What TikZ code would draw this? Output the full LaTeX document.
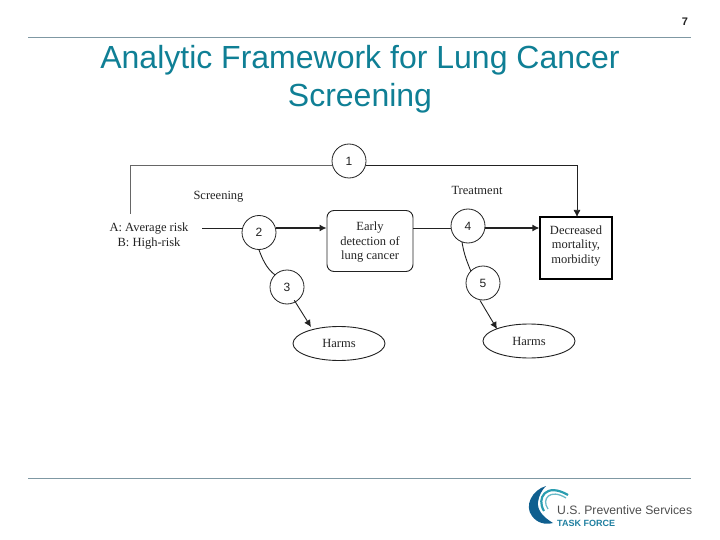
\documentclass[tikz,border=0pt]{standalone}
\usepackage{fontspec}
\setmainfont{Liberation Serif}
\newfontfamily\arialf{Liberation Sans}
\usetikzlibrary{shapes.geometric,arrows.meta}
\definecolor{titleteal}{HTML}{0F7F95}
\definecolor{rulegrey}{HTML}{7F98A3}
\definecolor{logoblue}{HTML}{0F5F8F}
\definecolor{logoteal}{HTML}{2A9DB0}
\definecolor{logotask}{HTML}{1F7FA0}
\definecolor{inkdark}{HTML}{222222}
\tikzset{
 numc/.style={circle,draw=inkdark,line width=0.8pt,minimum size=34pt,inner sep=0pt,font=\arialf\fontsize{12}{12}\selectfont,text=inkdark,fill=white},
 flow/.style={draw=inkdark,line width=0.9pt},
 thin flow/.style={draw=black!60,line width=0.7pt},
 tip/.style={-{Latex[length=7pt,width=7pt]}},
 lbl/.style={font=\fontsize{12.5}{14.5}\selectfont,align=center,text=inkdark,inner sep=0pt},
 harm/.style={ellipse,draw=inkdark,line width=0.9pt,minimum width=92pt,minimum height=34pt,inner sep=0pt,font=\fontsize{12.5}{14}\selectfont,text=inkdark},
 rulel/.style={draw=rulegrey,line width=0.8pt},
 titlet/.style={font=\arialf\fontsize{32}{38.5}\selectfont,text=titleteal,align=center,inner sep=0pt}
}
\begin{document}
\begin{tikzpicture}[x=1pt,y=-1pt]
\useasboundingbox (0,0) rectangle (720,540);
\node[font=\arialf\bfseries\fontsize{11}{11}\selectfont,text=inkdark,inner sep=0pt] (pagenum) at (685,22) {7};
\coordinate (ruleAl) at (28,37); \coordinate (ruleAr) at (691,37);
\draw[rulel] (ruleAl) -- (ruleAr);
\coordinate (ruleBl) at (28,478); \coordinate (ruleBr) at (691,478);
\draw[rulel] (ruleBl) -- (ruleBr);
\node[titlet] (title) at (360,79) {Analytic Framework for Lung Cancer\\Screening};

\node[numc] (c1) at (349,161) {1};
\node[numc] (c2) at (259,232.5) {2};
\node[numc] (c3) at (287,287) {3};
\node[numc] (c4) at (468,226) {4};
\node[numc] (c5) at (483,283) {5};
\node[lbl] (pop) at (149,236) {A: Average risk\\B: High-risk};
\node[lbl] (scr) at (218.5,196.5) {Screening};
\node[lbl] (trt) at (477,190) {Treatment};
\node[draw=inkdark,line width=0.9pt,rounded corners=7pt,minimum width=86pt,minimum height=61pt,inner sep=0pt] (early) at (370,241) {};
\node[lbl] (earlyt) at (370,242.5) {Early\\detection of\\lung cancer};
\node[draw=black,line width=1.2pt,minimum width=72pt,minimum height=62pt,inner sep=0pt] (out) at (576,248) {};
\node[lbl] (outt) at (576,246) {Decreased\\mortality,\\morbidity};
\node[harm] (h1) at (339,343.5) {Harms};
\node[harm] (h2) at (529,341) {Harms};

\coordinate (popE) at (202,228);
\coordinate (topL) at (130.5,214);
\draw[thin flow] (topL) -- (130.5,165) -- (c1.west |- 0,165);
\draw[thin flow,tip,draw=inkdark] (c1.east |- 0,165) -- (577,165) -- (577,217);
\draw[flow] (popE) -- (c2.west |- popE);
\draw[flow,line width=1.2pt,tip] (c2.east |- 0,228) -- (early.west |- 0,228);
\draw[flow] (early.east |- 0,228) -- (c4.west |- 0,228);
\draw[flow,line width=1.2pt,tip] (c4.east |- 0,228) -- (out.west |- 0,228);
\draw[flow] (c2.south) .. controls (262,258) and (266,268) .. (c3.north west);
\draw[flow,tip] (c3.south east) ++(-5,1) -- (311,327);
\draw[flow] (462,242) .. controls (464,255) and (468,264) .. (c5.north west);
\draw[flow,tip] (c5.south) ++(-3,0) -- (497,329);

\fill[logoblue] (546,486) .. controls (532,490) and (524,506) .. (532,516) .. controls (537,523) and (545,525) .. (553,523) .. controls (543,517) and (537,510) .. (538,502) .. controls (539,495) and (542,490) .. (546,486) -- cycle;
\draw[logoteal,line width=2.2pt] (544,511) .. controls (536,498) and (546,482) .. (568,495);
\draw[logoteal!70,line width=1.3pt] (548,509) .. controls (541,499) and (550,488) .. (566,498);
\node[font=\arialf\fontsize{12.2}{14}\selectfont,text=inkdark!80,anchor=west,inner sep=0pt] (logo1) at (557,510.5) {U.S. Preventive Services};
\node[font=\arialf\bfseries\fontsize{9}{10}\selectfont,text=logotask,anchor=west,inner sep=0pt] (logo2) at (557,523) {TASK FORCE};
\end{tikzpicture}
\end{document}
